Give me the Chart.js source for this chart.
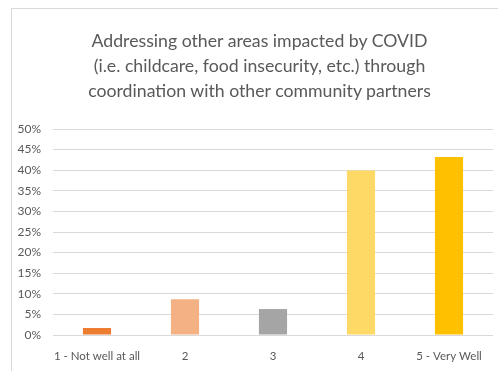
<!DOCTYPE html>
<html>
<head>
<meta charset="utf-8">
<script src="https://cdn.jsdelivr.net/npm/chart.js@4"></script>
<style>
  html, body { margin: 0; padding: 0; background: #fff; overflow: hidden; }
  #wrap { position: relative; width: 498px; height: 371px; }
  #frame { position: absolute; left: 11px; top: 8px; width: 600px; height: 500px; border: 1px solid #d9d9d9; }
  canvas { position: absolute; left: 0; top: 0; }
  #titulo { position: absolute; left: 20px; width: 479px; top: 27.5px; text-align: center;
            font-family: Lato, 'Open Sans', sans-serif; font-size: 17.7px; line-height: 25px; color: #595959; }
</style>
</head>
<body>
<div id="wrap">
  <div id="frame"></div>
  <canvas id="chart" width="498" height="371"></canvas>
  <div id="titulo"></div>
</div>
<script>
  const titulo = ['Addressing other areas impacted by COVID', '(i.e. childcare, food insecurity, etc.) through', 'coordination with other community partners'];
  const categorias = ['1 - Not well at all', '2', '3', '4', '5 - Very Well'];
  const valores = [1.7, 8.7, 6.3, 39.9, 43.2];
  const cores = ['#ed7d31', '#f4b183', '#a5a5a5', '#ffd966', '#ffc000'];
  const yMax = 50;
  const yStep = 5;

  const fonte = "Lato, 'Open Sans', sans-serif";
  const cinza = '#595959';

  const tEl = document.getElementById('titulo');
  titulo.forEach(linha => {
    const d = document.createElement('div');
    d.textContent = linha;
    tEl.appendChild(d);
  });

  new Chart(document.getElementById('chart'), {
    type: 'bar',
    data: {
      labels: categorias,
      datasets: [{ data: valores, backgroundColor: cores, barPercentage: 0.32, categoryPercentage: 1 }]
    },
    options: {
      responsive: false,
      animation: false,
      layout: { padding: { top: 129, right: 5, bottom: 0, left: 0 } },
      plugins: {
        legend: { display: false },
        tooltip: { enabled: false },
        title: { display: false }
      },
      scales: {
        x: {
          grid: { display: false },
          border: { display: false },
          ticks: { color: cinza, font: { family: fonte, size: 11.5 }, padding: 6, maxRotation: 0, autoSkip: false },
          afterFit: s => { s.height = 36; }
        },
        y: {
          min: 0, max: yMax,
          grid: { color: '#d9d9d9', lineWidth: 1, drawTicks: false },
          border: { display: false },
          ticks: { stepSize: yStep, color: cinza, font: { family: fonte, size: 12 }, padding: 12, callback: v => v + '%' },
          afterFit: s => { s.width = 53; }
        }
      }
    }
  });
</script>
</body>
</html>
